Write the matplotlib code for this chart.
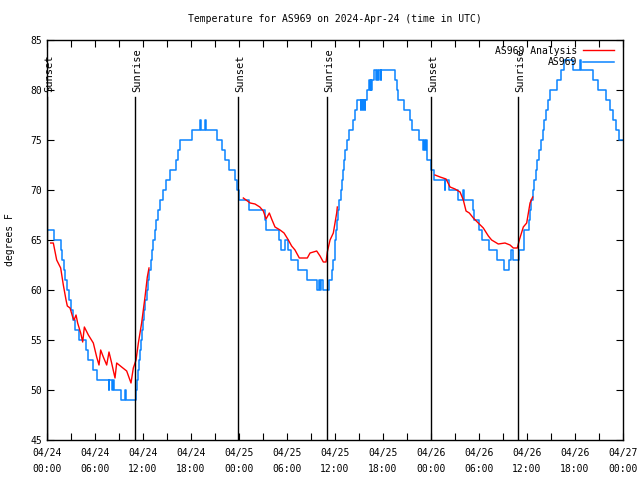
import numpy as np
import matplotlib
matplotlib.use("Agg")
import matplotlib.pyplot as plt

# hours since 2024-04-24 00:00 UTC
tick_hours = [0, 6, 12, 18, 24, 30, 36, 42, 48, 54, 60, 66, 72]
tick_labels = ["04/24\n00:00", "04/24\n06:00", "04/24\n12:00", "04/24\n18:00",
               "04/25\n00:00", "04/25\n06:00", "04/25\n12:00", "04/25\n18:00",
               "04/26\n00:00", "04/26\n06:00", "04/26\n12:00", "04/26\n18:00",
               "04/27\n00:00"]

sunset_hours = [0.0, 23.9, 48.0]
sunrise_hours = [11.0, 35.0, 58.9]

# AS969 observations (change points, drawn as steps)
obs_hours = [0.0, 0.9, 1.7, 1.9, 2.1, 2.3, 2.5, 2.7, 3.0, 3.2, 3.5, 4.0, 4.9, 5.1, 5.8, 6.2,
             7.7, 7.8, 8.1, 8.3, 8.4, 9.3, 9.7, 9.85,
             11.1, 11.25, 11.4, 11.55, 11.65, 11.75, 11.85, 12.0, 12.15, 12.3, 12.45, 12.6,
             12.8, 13.0, 13.1, 13.25, 13.45, 13.65, 13.85, 14.1, 14.5, 14.9, 15.4, 16.1,
             16.4, 16.6, 16.9, 18.1, 19.1, 19.2, 19.8, 19.9, 21.2, 21.9, 22.3, 22.8, 23.5,
             23.75, 24.0, 25.2, 27.2, 27.4, 29.0, 29.2, 29.8, 30.1, 30.5, 31.4, 32.5, 33.8,
             33.95, 34.15, 34.3, 34.45,
             35.2, 35.6, 35.8, 35.95, 36.05, 36.15, 36.25, 36.35, 36.5, 36.7, 36.85, 36.95,
             37.1, 37.25, 37.45, 37.8, 38.3, 38.5, 38.7, 39.2, 39.3, 39.45, 39.55, 39.7, 39.8,
             39.95, 40.2, 40.35, 40.45, 40.55, 40.65, 40.85, 41.1, 41.2, 41.4, 41.5, 41.7, 41.8,
             43.5, 43.7, 43.9, 44.6, 45.4, 45.6, 46.5, 47.0, 47.1, 47.25, 47.35, 47.5, 48.0,
             48.4, 49.7, 49.8, 50.3, 51.4, 52.0, 52.1, 53.2, 53.4, 54.0, 54.4, 55.2, 56.2,
             57.1, 57.75, 57.95, 58.2,
             59.0, 59.6, 59.65, 60.2, 60.35, 60.5, 60.7, 60.9, 61.1, 61.3, 61.5, 61.7, 61.95,
             62.15, 62.35, 62.6, 62.9, 63.7, 64.2, 64.6, 65.7, 66.6, 66.8, 68.3, 68.9, 69.9,
             70.4, 70.8, 71.1, 71.5, 72.0]
obs_temps = [66, 65, 64, 63, 62, 61, 60, 59, 58, 57, 56, 55, 54, 53, 52, 51,
             50, 51, 50, 51, 50, 49, 50, 49,
             50, 51, 52, 53, 54, 55, 56, 57, 58, 59, 60, 61,
             62, 63, 64, 65, 66, 67, 68, 69, 70, 71, 72, 73,
             74, 75, 75, 76, 77, 76, 77, 76, 75, 74, 73, 72, 71,
             70, 69, 68, 67, 66, 65, 64, 65, 64, 63, 62, 61, 60,
             61, 60, 61, 60,
             61, 62, 63, 64, 65, 66, 67, 68, 69, 70, 71, 72,
             73, 74, 75, 76, 77, 78, 79, 78, 79, 78, 79, 78, 79,
             80, 81, 80, 81, 80, 81, 82, 81, 82, 81, 82, 81, 82,
             81, 80, 79, 78, 77, 76, 75, 74, 75, 74, 75, 73, 72,
             71, 70, 71, 70, 69, 70, 69, 68, 67, 66, 65, 64, 63,
             62, 63, 64, 63,
             64, 65, 66, 67, 68, 69, 70, 71, 72, 73, 74, 75, 76,
             77, 78, 79, 80, 81, 82, 83, 82, 83, 82, 81, 80, 79,
             78, 77, 76, 75, 75]

# AS969 Analysis (three evening/night segments)
ana1_hours = [0.46, 0.79, 1.21, 1.71, 2.04, 2.38, 2.54, 2.88, 3.21, 3.38, 3.63, 3.83, 4.21,
              4.46, 4.67, 5.17, 5.79, 6.21, 6.5, 6.71, 7.04, 7.46, 7.75, 8.08, 8.5, 8.71,
              9.33, 9.96, 10.5, 10.79, 11.13, 11.42, 11.83, 12.25, 12.54, 12.75]
ana1_temps = [64.7, 64.7, 63.0, 62.2, 60.5, 59.0, 58.4, 58.2, 57.3, 57.0, 57.5, 56.7, 55.7,
              54.8, 56.3, 55.5, 54.7, 53.3, 52.5, 54.0, 53.3, 52.5, 53.8, 52.7, 51.2, 52.7,
              52.3, 51.9, 50.7, 52.2, 53.0, 54.7, 56.7, 59.3, 61.3, 62.2]
ana2_hours = [24.54, 25.4, 26.0, 26.6, 27.04, 27.38, 27.79, 28.08, 28.5, 29.13, 29.63, 30.17,
              30.58, 31.0, 31.54, 32.54, 32.88, 33.71, 34.13, 34.54, 34.88, 35.04, 35.38,
              35.79, 36.21, 36.29]
ana2_temps = [69.2, 68.7, 68.6, 68.3, 67.9, 67.1, 67.7, 67.1, 66.3, 66.0, 65.7, 65.0,
              64.4, 64.0, 63.2, 63.2, 63.7, 63.9, 63.4, 62.8, 62.8, 63.8, 65.0,
              65.7, 67.7, 68.3]
ana3_hours = [48.5, 49.13, 49.88, 50.38, 51.0, 51.63, 52.04, 52.38, 52.79, 53.29, 53.91, 54.54,
              55.17, 55.58, 56.41, 57.25, 57.88, 58.29, 58.79, 59.04, 59.54, 59.96, 60.38, 60.71]
ana3_temps = [71.5, 71.3, 71.1, 70.3, 70.1, 69.8, 69.0, 67.9, 67.7, 67.2, 66.7, 66.2,
              65.4, 65.0, 64.6, 64.7, 64.5, 64.2, 64.2, 65.0, 66.3, 66.7, 68.7, 69.3]

plt.rcParams['font.family'] = ['DejaVu Sans Mono']
plt.rcParams['font.size'] = 7

fig = plt.figure(figsize=(6.4, 4.8), dpi=100)
ax = fig.add_axes([47/640, 40/480, 576/640, 400/480])

red = '#ff0000'
blue = '#0a84ff'

ana_h = ana1_hours + [np.nan] + ana2_hours + [np.nan] + ana3_hours
ana_t = ana1_temps + [np.nan] + ana2_temps + [np.nan] + ana3_temps
ax.plot(ana_h, ana_t, color=red, lw=1.0, label="AS969 Analysis", zorder=3)
ax.plot(obs_hours, obs_temps, color=blue, lw=1.1, drawstyle='steps-post', label="AS969", zorder=2)

for h in sunset_hours:
    ax.plot([h, h], [0, 0.857], transform=ax.get_xaxis_transform(), color='black', lw=1.0, zorder=4)
    ax.text(h + 0.3, 0.87, "Sunset", rotation=90, ha='center', va='bottom',
            transform=ax.get_xaxis_transform(), fontsize=7.5)
for h in sunrise_hours:
    ax.plot([h, h], [0, 0.857], transform=ax.get_xaxis_transform(), color='black', lw=1.0, zorder=4)
    ax.text(h + 0.3, 0.87, "Sunrise", rotation=90, ha='center', va='bottom',
            transform=ax.get_xaxis_transform(), fontsize=7.5)

ax.set_xlim(0, 72)
ax.set_ylim(45, 85)
ax.set_xticks(tick_hours)
ax.set_xticklabels(tick_labels, linespacing=1.7)
ax.set_xticks(np.arange(3, 72, 6), minor=True)
ax.set_yticks(np.arange(45, 86, 5))
ax.tick_params(axis='both', which='both', direction='in', top=True, right=True, length=5, width=0.8)
ax.tick_params(axis='x', pad=6)
for s in ax.spines.values():
    s.set_linewidth(1.0)

ax.set_ylabel("degrees F", fontsize=7)
ax.yaxis.set_label_coords(-0.055, 0.5)
ax.set_title("Temperature for AS969 on 2024-Apr-24 (time in UTC)", fontsize=7, pad=13)

leg = ax.legend(loc='upper right', bbox_to_anchor=(0.995, 1.0), frameon=False,
                markerfirst=False, handlelength=3.2, handletextpad=0.6,
                borderaxespad=0.2, labelspacing=0.15)

fig.savefig("out.png", dpi=100)
